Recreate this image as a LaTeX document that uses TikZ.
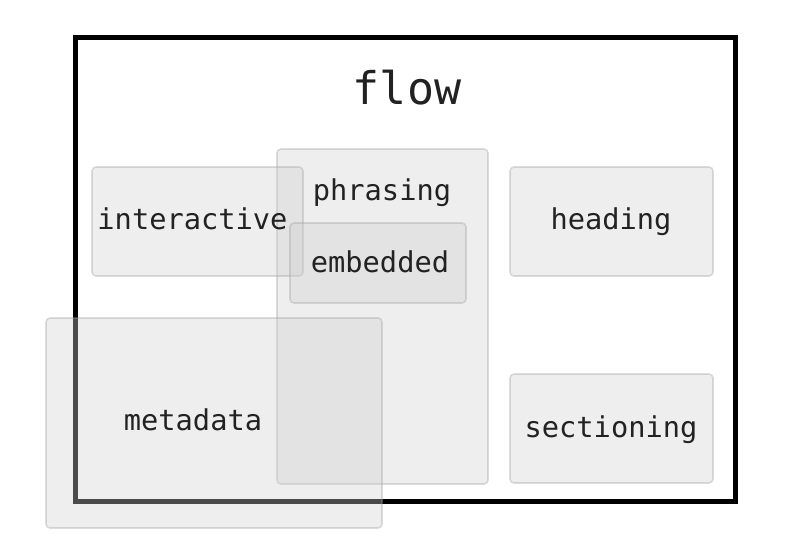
\documentclass[tikz,border=0pt]{standalone}
\usepackage{fontspec}
\setmonofont{DejaVu Sans Mono}
\definecolor{boxfill}{HTML}{CFCFCF}
\definecolor{boxline}{HTML}{A0A0A0}
\definecolor{txt}{HTML}{222222}
\begin{document}
\begin{tikzpicture}[x=1pt,y=-1pt,
  cat/.style={draw=boxline, fill=boxfill, fill opacity=0.36, draw opacity=0.36,
    line width=1.6pt, rounded corners=4pt, inner sep=0pt},
  lbl/.style={text=txt, font=\ttfamily\fontsize{28.7}{34}\selectfont, inner sep=0pt, anchor=base},
]
\useasboundingbox (0,0) rectangle (811,550);
\draw[line width=5pt] (75.5,37) rectangle (735,501.5);
\node[lbl, font=\ttfamily\fontsize{45}{52}\selectfont] (flow) at (407,104) {flow};
% boxes
\node[cat, minimum width=211pt, minimum height=335pt] (phrasing) at (382.5,316.5) {};
\node[cat, minimum width=211pt, minimum height=109pt] (interactive) at (197.5,221.5) {};
\node[cat, minimum width=176pt, minimum height=80pt] (embedded) at (378,263) {};
\node[cat, minimum width=203pt, minimum height=109pt] (heading) at (611.5,221.5) {};
\node[cat, minimum width=203pt, minimum height=109pt] (sectioning) at (611.5,428.5) {};
\node[cat, minimum width=336pt, minimum height=210pt] (metadata) at (214,423) {};
% labels
\node[lbl] (tinteractive) at (192.5,229.5) {interactive};
\node[lbl] (tphrasing) at (382,200.5) {phrasing};
\node[lbl] (tembedded) at (380,272.5) {embedded};
\node[lbl] (theading) at (611,229.5) {heading};
\node[lbl] (tmetadata) at (193,430.5) {metadata};
\node[lbl] (tsectioning) at (611,437.5) {sectioning};
\end{tikzpicture}
\end{document}
